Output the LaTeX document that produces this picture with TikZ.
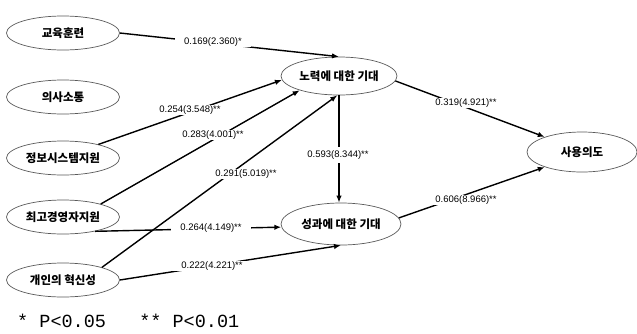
\documentclass[tikz,border=0pt]{standalone}
\usepackage{fontspec}
\setmainfont{Liberation Sans}
\newfontfamily\krfont{Noto Sans CJK KR}
\newfontfamily\legfont{Liberation Mono}
\usetikzlibrary{shapes.geometric,arrows.meta}
\begin{document}
\begin{tikzpicture}[x=1pt,y=-1pt,
  var/.style={ellipse,draw=black!65,line width=0.7pt,inner sep=0pt,
    font=\krfont\bfseries\fontsize{11.5}{13}\selectfont},
  leftvar/.style={var,minimum width=113pt,minimum height=34pt},
  conn/.style={line width=1.4pt,-{Latex[length=7pt,width=5.5pt]}},
  coef/.style={fill=white,inner xsep=9pt,inner ysep=1pt,
    font=\fontsize{9.5}{10}\selectfont}]
\useasboundingbox (0,0) rectangle (637,333);
% variables
\node[leftvar] (kyo) at (63,33) {교육훈련};
\node[leftvar] (uisa) at (63,97) {의사소통};
\node[leftvar] (jeong) at (63,158) {정보시스템지원};
\node[leftvar] (choi) at (63,217) {최고경영자지원};
\node[leftvar] (gaein) at (63,280) {개인의 혁신성};
\node[var,minimum width=116pt,minimum height=38pt] (nor) at (339,76) {노력에 대한 기대};
\node[var,minimum width=120pt,minimum height=42pt] (seong) at (341,224) {성과에 대한 기대};
\node[var,minimum width=110pt,minimum height=40pt] (sayong) at (582,152) {사용의도};
% connectors
\draw[conn] (kyo.east) -- (nor.north);
\draw[conn] (jeong.21) -- (nor.184);
\draw[conn] (choi.19) -- (nor.200);
\draw[conn] (gaein.18) -- (nor.265);
\draw[conn] (choi.-24) -- (seong.183);
\draw[conn] (gaein.east) -- (seong.south);
\draw[conn] (nor.south) -- (nor.south |- seong.north);
\draw[conn] (nor.-5) -- (sayong.158);
\draw[conn] (seong.6) -- (sayong.202);
% coefficients
\node[coef] (c1) at (213,42) {0.169(2.360)*};
\node[coef] (c2) at (190,110) {0.254(3.548)**};
\node[coef] (c3) at (213,135) {0.283(4.001)**};
\node[coef] (c4) at (246,174) {0.291(5.019)**};
\node[coef] (c5) at (211,228) {0.264(4.149)**};
\node[coef] (c6) at (212,266) {0.222(4.221)**};
\node[coef,inner xsep=2pt,inner ysep=4pt] (c7) at (338,155) {0.593(8.344)**};
\node[coef] (c8) at (466,103) {0.319(4.921)**};
\node[coef] (c9) at (466,200) {0.606(8.966)**};
% legend
\node[anchor=base west,inner sep=0pt,font=\legfont\fontsize{18.5}{20}\selectfont] (leg) at (17,327) {*~P<0.05~~~**~P<0.01};
\end{tikzpicture}
\end{document}
